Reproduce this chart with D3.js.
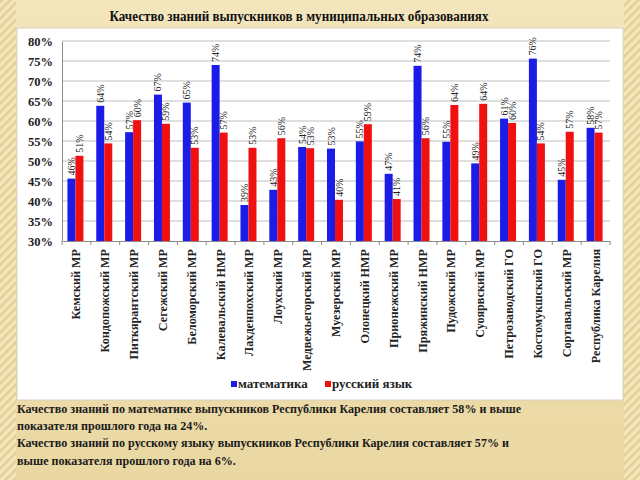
<!DOCTYPE html>
<html><head><meta charset="utf-8">
<script src="https://cdn.jsdelivr.net/npm/d3@7"></script>
<style>html,body{margin:0;padding:0;background:#f0e1b4;}svg{display:block;} svg text{font-family:"Liberation Serif","Times New Roman","DejaVu Serif",serif;}</style>
</head><body>
<script>
const categories = ["Кемский МР","Кондопожский МР","Питкярантский МР","Сегежский МР","Беломорский МР","Калевальский НМР","Лахденпохский МР","Лоухский МР","Медвежьегорский МР","Муезерский МР","Олонецкий НМР","Прионежский МР","Пряжинский НМР","Пудожский МР","Суоярвский МР","Петрозаводский ГО","Костомукшский ГО","Сортавальский МР","Республика Карелия"];
const math = [45.6,63.8,57.2,66.6,64.6,74.0,39.0,42.8,53.5,53.1,54.9,46.8,73.8,54.8,49.4,60.6,75.6,45.3,58.3];
const russian = [51.3,54.4,60.2,59.3,53.3,57.1,53.3,55.7,53.2,40.3,59.2,40.5,55.7,64.0,64.3,59.5,54.4,57.3,57.1];
const seriesNames = ["математика","русский язык"];
const yTicks = [0.30,0.35,0.40,0.45,0.50,0.55,0.60,0.65,0.70,0.75,0.80];
const title = "Качество знаний выпускников в муниципальных образованиях";
const notes = ["Качество знаний по математике выпускников Республики Карелия составляет 58% и выше",
"показателя прошлого года на 24%.",
"Качество знаний по русскому языку выпускников Республики Карелия составляет 57% и",
"выше показателя прошлого года на 6%."];

const W=640,H=480;
const FF='"Liberation Serif","Times New Roman","DejaVu Serif",serif';
const svg=d3.select("body").append("svg").attr("width",W).attr("height",H);
const defs=svg.append("defs");
const pat=defs.append("pattern").attr("id","stripes").attr("patternUnits","userSpaceOnUse")
 .attr("width",6).attr("height",6).attr("patternTransform","rotate(45)");
pat.append("rect").attr("width",6).attr("height",6).attr("fill","#f3e6bd");
pat.append("rect").attr("width",2.5).attr("height",6).attr("fill","#e2cf94");
const grad=defs.append("linearGradient").attr("id","bg").attr("x1",0).attr("y1",0).attr("x2",0).attr("y2",1);
grad.append("stop").attr("offset","0").attr("stop-color","#f3e5bc");
grad.append("stop").attr("offset","1").attr("stop-color","#ead8a3");
svg.append("rect").attr("width",W).attr("height",H).attr("fill","url(#bg)");
svg.append("rect").attr("x",0).attr("y",0).attr("width",16).attr("height",H).attr("fill","url(#stripes)");
svg.append("rect").attr("x",624).attr("y",0).attr("width",16).attr("height",H).attr("fill","url(#stripes)");

svg.append("text").attr("transform","translate(299,21) scale(0.95,1)").attr("text-anchor","middle")
 .style("font-family",FF).attr("font-weight","bold").attr("font-size",13.8).attr("fill","#111").text(title);

svg.append("rect").attr("x",17).attr("y",28).attr("width",606).attr("height",372).attr("fill","#fff").attr("stroke","#d8d0c0");

const x0=d3.scaleBand().domain(categories).range([62,610]);
const y=d3.scaleLinear().domain([0.30,0.80]).range([241,41]);

const g=svg.append("g");
g.selectAll("line.grid").data(yTicks.slice(1)).join("line").attr("class","grid")
 .attr("x1",62).attr("x2",610).attr("y1",d=>y(d)).attr("y2",d=>y(d)).attr("stroke","#bfbfbf").attr("stroke-width",1);

const yAxis=d3.axisLeft(y).tickValues(yTicks).tickFormat(d3.format(".0%")).tickSize(0).tickPadding(9);
const ya=svg.append("g").attr("transform","translate(62,0)").call(yAxis).attr("font-family",null);
ya.select(".domain").attr("stroke","#8c8c8c");
ya.selectAll("text").style("font-family",FF).attr("font-weight","bold").attr("font-size",12.5).attr("fill","#222");

const bw=8;
const off=x0.bandwidth()/2;
const data=categories.map((c,i)=>({c,vals:[math[i],russian[i]]}));
const colors=["#1c1ce8","#f01010"];
const gc=svg.append("g");
data.forEach(d=>{
 d.vals.forEach((v,k)=>{
  const bx=x0(d.c)+off-bw+(k*bw)-1;
  gc.append("rect").attr("x",bx).attr("y",y(v/100)).attr("width",bw).attr("height",241-y(v/100)).attr("fill",colors[k]);
  gc.append("text").attr("transform",`translate(${bx+bw/2+3.5},${y(v/100)-3}) rotate(-90)`)
   .style("font-family",FF).attr("font-size",10).attr("fill","#222").text(Math.round(v)+"%");
 });
});

const xAxis=d3.axisBottom(x0).tickSize(0).tickPadding(0).tickFormat("");
const xa=svg.append("g").attr("transform","translate(0,241)").call(xAxis);
xa.select(".domain").attr("stroke","#8c8c8c");
xa.selectAll("line.sep").data(categories.concat(["end"])).join("line").attr("class","sep")
 .attr("x1",(d,i)=>62+i*x0.step()).attr("x2",(d,i)=>62+i*x0.step()).attr("y1",0).attr("y2",4).attr("stroke","#8c8c8c");
svg.append("g").selectAll("text").data(categories).join("text")
 .attr("transform",d=>`translate(${x0(d)+off+4},249) rotate(-90)`)
 .attr("text-anchor","end").style("font-family",FF).attr("font-weight","bold").attr("font-size",12.2).attr("fill","#222").text(d=>d);

const leg=[{x:231,k:0},{x:325,k:1}];
leg.forEach(l=>{
 svg.append("rect").attr("x",l.x).attr("y",381).attr("width",6).attr("height",6).attr("fill",colors[l.k]);
 svg.append("text").attr("x",l.x+7).attr("y",388).style("font-family",FF).attr("font-weight","bold").attr("font-size",13).attr("fill","#222").text(seriesNames[l.k]);
});

svg.append("g").selectAll("text").data(notes).join("text")
 .attr("transform",(d,i)=>`translate(17,${413+i*17.2}) scale(0.93,1)`)
 .style("font-family",FF).attr("font-weight","bold").attr("font-size",13).attr("fill","#1a1a1a").text(d=>d);
</script>
</body></html>
